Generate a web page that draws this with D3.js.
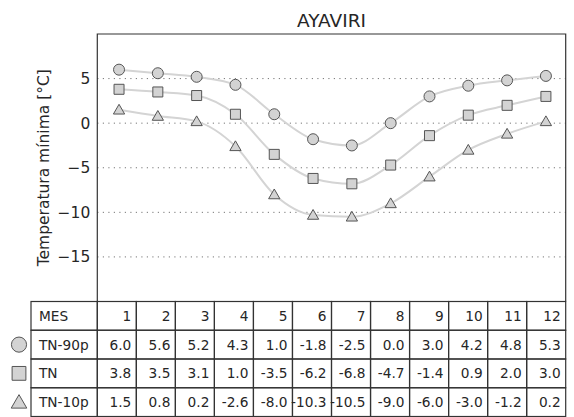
<!DOCTYPE html>
<html>
<head>
<meta charset="utf-8">
<script src="https://cdn.jsdelivr.net/npm/d3@7"></script>
<style>
  body { margin: 0; background: #fff; }
  text { font-family: "DejaVu Sans", sans-serif; fill: #262626; }
</style>
</head>
<body>
<div id="chart"></div>
<script>
// data
const months = [1, 2, 3, 4, 5, 6, 7, 8, 9, 10, 11, 12]
const tn90p = [6.0, 5.6, 5.2, 4.3, 1.0, -1.8, -2.5, 0.0, 3.0, 4.2, 4.8, 5.3]
const tn = [3.8, 3.5, 3.1, 1.0, -3.5, -6.2, -6.8, -4.7, -1.4, 0.9, 2.0, 3.0]
const tn10p = [1.5, 0.8, 0.2, -2.6, -8.0, -10.3, -10.5, -9.0, -6.0, -3.0, -1.2, 0.2]
const seriesNames = ['TN-90p', 'TN', 'TN-10p']
const seriesSymbols = [d3.symbolCircle, d3.symbolSquare, d3.symbolTriangle]
const yTicks = [5, 0, -5, -10, -15]
const title = 'AYAVIRI'
const yLabel = 'Temperatura mínima [°C]'

const series = [tn90p, tn, tn10p]

// dimensions
const dims = { width: 574, height: 417, left: 97.3, right: 565.7, top: 34, bottom: 301.5 }
const tableBottom = 416.5
const labelColLeft = 31

const svg = d3.select('#chart')
    .append('svg')
    .attr('width', dims.width)
    .attr('height', dims.height)

// scales
const xScale = d3.scaleLinear()
    .domain([0.44, 12.51])
    .range([dims.left, dims.right])

const yScale = d3.scaleLinear()
    .domain([-20, 10])
    .range([dims.bottom, dims.top])

// grid
svg.append('g')
    .selectAll('line')
    .data(yTicks)
    .join('line')
    .attr('x1', dims.left)
    .attr('x2', dims.right)
    .attr('y1', d => yScale(d))
    .attr('y2', d => yScale(d))
    .attr('stroke', '#777')
    .attr('stroke-width', 1)
    .attr('stroke-dasharray', '1.2,4.3')

// y axis
const yAxis = d3.axisLeft(yScale)
    .tickValues(yTicks)
    .tickSize(0)
    .tickPadding(7)

svg.append('g')
    .attr('transform', `translate(${dims.left},0)`)
    .call(yAxis)
    .call(g => g.select('.domain').remove())
    .selectAll('text')
    .style('font-size', '15.5px')
    .style('font-family', '"DejaVu Sans", sans-serif')
    .attr('fill', '#262626')

// lines
const lineGenerator = d3.line()
    .x((d, i) => xScale(months[i]))
    .y(d => yScale(d))
    .curve(d3.curveMonotoneX)

svg.append('g')
    .selectAll('path')
    .data(series)
    .join('path')
    .attr('d', lineGenerator)
    .attr('fill', 'none')
    .attr('stroke', '#d4d4d4')
    .attr('stroke-width', 2)

// markers
const symbolSizes = [95, 100, 55]
series.forEach((vals, s) => {
    svg.append('g')
        .selectAll('path')
        .data(vals)
        .join('path')
        .attr('d', d3.symbol(seriesSymbols[s], symbolSizes[s]))
        .attr('transform', (d, i) => `translate(${xScale(months[i])},${yScale(d) + (s === 2 ? 1 : 0)})`)
        .attr('fill', '#d3d3d3')
        .attr('stroke', '#555')
        .attr('stroke-width', 1)
})

// spines
svg.append('path')
    .attr('d', `M${dims.left},${dims.bottom}V${dims.top}H${dims.right}V${dims.bottom}`)
    .attr('fill', 'none')
    .attr('stroke', '#333')
    .attr('stroke-width', 1.2)

// title and label
svg.append('text')
    .attr('x', (dims.left + dims.right) / 2)
    .attr('y', 27)
    .attr('text-anchor', 'middle')
    .style('font-size', '18.5px')
    .text(title)

svg.append('text')
    .attr('transform', `translate(49,${(dims.top + dims.bottom) / 2}) rotate(-90)`)
    .attr('text-anchor', 'middle')
    .style('font-size', '15.5px')
    .text(yLabel)

// table
const colScale = d3.scaleBand()
    .domain(months)
    .range([dims.left, dims.right])

const rowKeys = ['MES', ...seriesNames]
const rowScale = d3.scaleBand()
    .domain(rowKeys)
    .range([dims.bottom, tableBottom])

const table = svg.append('g')

const rowsData = [months.map(String), ...series.map(v => v.map(d => d.toFixed(1)))]

rowKeys.forEach((key, r) => {
    const y = rowScale(key)
    const h = rowScale.bandwidth()
    table.append('rect')
        .attr('x', labelColLeft)
        .attr('y', y)
        .attr('width', dims.left - labelColLeft)
        .attr('height', h)
        .attr('fill', 'none')
        .attr('stroke', '#333')
        .attr('stroke-width', 1.2)
    table.append('text')
        .attr('x', labelColLeft + 8)
        .attr('y', y + h / 2)
        .attr('dy', '0.36em')
        .style('font-size', '13.7px')
        .text(key)

    table.selectAll(null)
        .data(rowsData[r])
        .join('rect')
        .attr('x', (d, i) => colScale(months[i]))
        .attr('y', y)
        .attr('width', colScale.bandwidth())
        .attr('height', h)
        .attr('fill', 'none')
        .attr('stroke', '#333')
        .attr('stroke-width', 1.2)

    table.selectAll(null)
        .data(rowsData[r])
        .join('text')
        .attr('x', (d, i) => colScale(months[i]) + colScale.bandwidth() - 5)
        .attr('y', y + h / 2)
        .attr('dy', '0.36em')
        .attr('text-anchor', 'end')
        .style('font-size', '13.7px')
        .text(d => d)
})

// legend markers beside the table
const legendSizes = [180, 190, 105]
seriesNames.forEach((name, s) => {
    svg.append('path')
        .attr('d', d3.symbol(seriesSymbols[s], legendSizes[s]))
        .attr('transform', `translate(19,${rowScale(name) + rowScale.bandwidth() / 2 + (s === 2 ? 1.5 : 0)})`)
        .attr('fill', '#d3d3d3')
        .attr('stroke', '#555')
        .attr('stroke-width', 1)
})
</script>
</body>
</html>
